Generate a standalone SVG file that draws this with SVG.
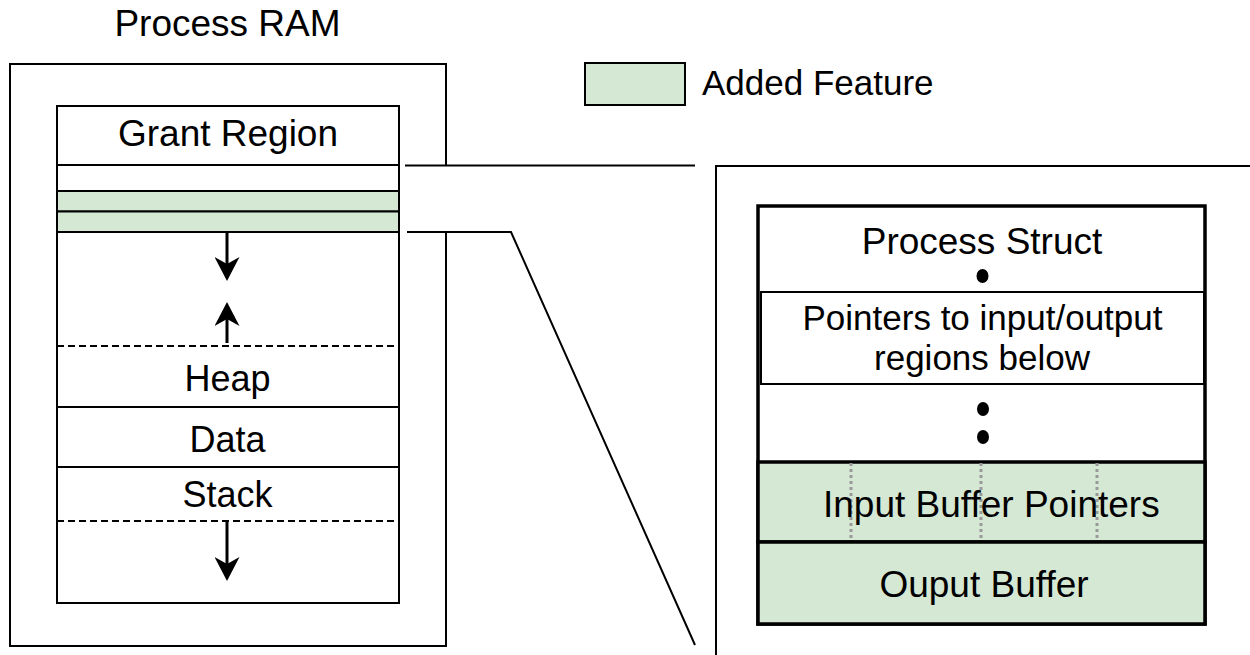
<svg xmlns="http://www.w3.org/2000/svg" width="1250" height="655" viewBox="0 0 1250 655">
  <style>
    text { font-family: "Liberation Sans", Arial, Helvetica, sans-serif; font-size: 36px; fill: #000; }
    .mid { text-anchor: middle; }
    .big { font-size: 37px; }
    .box { fill: #fff; stroke: #000; stroke-width: 2; }
    .thick { fill: none; stroke: #000; stroke-width: 3.5; }
    .added { fill: #d5e8d4; stroke: #000; stroke-width: 2; }
    .addedThick { fill: #d5e8d4; stroke: #000; stroke-width: 3.5; }
    .line { fill: none; stroke: #000; stroke-width: 2; }
    .dash { fill: none; stroke: #000; stroke-width: 2; stroke-dasharray: 7 4; }
    .dots { fill: none; stroke: #999; stroke-width: 3; stroke-dasharray: 3 3; }
    .grow { fill: none; stroke: #000; stroke-width: 3; marker-end: url(#head); }
    .dot { fill: #000; }
  </style>
  <defs>
    <marker id="head" viewBox="0 0 24 25" refX="7" refY="12.5" markerWidth="24" markerHeight="25" markerUnits="userSpaceOnUse" orient="auto">
      <path d="M0,0 L24,12.5 L0,25 L7,12.5 Z" fill="#000"/>
    </marker>
  </defs>

  <rect width="1250" height="655" fill="#fff"/>

  <!-- Process RAM frame (right edge broken where the zoom lines leave) -->
  <g id="process-ram">
    <text class="mid big" x="227.5" y="36">Process RAM</text>
    <path class="line" d="M446,165 V64 H10 V646 H446 V232"/>
  </g>

  <!-- Memory layout column -->
  <g id="memory-layout">
    <rect class="box" x="57" y="106" width="342" height="497"/>
    <line class="line" x1="57" y1="165" x2="399" y2="165"/>
    <text class="mid big" x="228" y="146">Grant Region</text>
  </g>
  <g id="grant-added-1">
    <rect class="added" x="57" y="191" width="342" height="20.5"/>
  </g>
  <g id="grant-added-2">
    <rect class="added" x="57" y="211.5" width="342" height="20.5"/>
  </g>
  <g id="heap">
    <line class="dash" x1="57" y1="346" x2="399" y2="346"/>
    <text class="mid" x="227.5" y="391">Heap</text>
  </g>
  <g id="data">
    <line class="line" x1="57" y1="407" x2="399" y2="407"/>
    <text class="mid" x="227.5" y="452">Data</text>
  </g>
  <g id="stack">
    <line class="line" x1="57" y1="467" x2="399" y2="467"/>
    <text class="mid" x="227.5" y="507">Stack</text>
    <line class="dash" x1="57" y1="521" x2="399" y2="521"/>
  </g>

  <!-- Legend -->
  <g id="legend">
    <rect class="added" x="585" y="63" width="100" height="42"/>
    <text x="702" y="95" style="font-size:35px">Added Feature</text>
  </g>

  <!-- Enlarged grant region -->
  <g id="grant-detail">
    <path class="line" d="M716,655 V166 H1250"/>
    <rect class="thick" x="758" y="206" width="447" height="418"/>
  </g>
  <g id="process-struct">
    <text class="mid big" x="982" y="254">Process Struct</text>
    <ellipse class="dot" cx="982.5" cy="276" rx="6" ry="7"/>
  </g>
  <g id="io-pointers">
    <rect class="box" x="761" y="292" width="443" height="92"/>
    <text class="mid" x="982.5" y="330" style="font-size:35px">Pointers to input/output</text>
    <text class="mid" x="982" y="370" style="font-size:35px">regions below</text>
  </g>
  <g id="ellipsis">
    <ellipse class="dot" cx="983" cy="409" rx="6" ry="7"/>
    <ellipse class="dot" cx="983" cy="437" rx="6" ry="7"/>
  </g>
  <g id="input-buffer-pointers">
    <rect class="addedThick" x="758" y="462" width="447" height="80"/>
    <line class="dots" x1="851" y1="463" x2="851" y2="541"/>
    <line class="dots" x1="981" y1="463" x2="981" y2="541"/>
    <line class="dots" x1="1097" y1="463" x2="1097" y2="541"/>
    <text class="big" x="823" y="517">Input Buffer Pointers</text>
  </g>
  <g id="output-buffer">
    <rect class="addedThick" x="758" y="542" width="447" height="82"/>
    <text class="mid big" x="984" y="597">Ouput Buffer</text>
  </g>

  <!-- Connectors: zoom lines and growth arrows -->
  <g id="connectors">
    <path class="line" d="M405,165.5 H695"/>
    <path class="line" d="M407,232 H511 L695,645"/>
    <line class="grow" x1="227" y1="232" x2="227" y2="264"/>
    <line class="grow" x1="227" y1="343" x2="227" y2="319"/>
    <line class="grow" x1="227" y1="521" x2="227" y2="564"/>
  </g>
</svg>
